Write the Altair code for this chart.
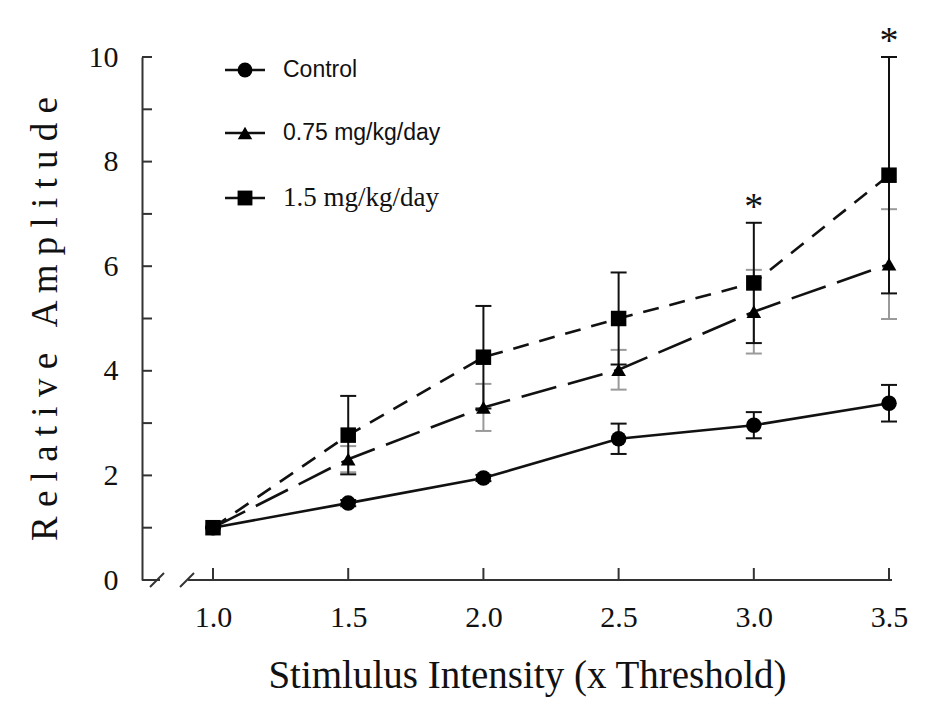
import altair as alt
import pandas as pd

# ---- data ----
x_vals = [1.0, 1.5, 2.0, 2.5, 3.0, 3.5]
control = [1.0, 1.47, 1.95, 2.70, 2.96, 3.38]
control_err = [0.0, 0.06, 0.06, 0.29, 0.25, 0.35]
low_dose = [1.0, 2.31, 3.30, 4.02, 5.13, 6.04]
low_err = [0.0, 0.25, 0.45, 0.38, 0.80, 1.05]
high_dose = [1.0, 2.77, 4.26, 5.00, 5.68, 7.74]
high_err = [0.0, 0.75, 0.98, 0.88, 1.15, 2.26]

series_names = ["Control", "0.75 mg/kg/day", "1.5 mg/kg/day"]
star_x = [3.0, 3.5]
star_label = ["*", "*"]

y_tick_values = [0, 2, 4, 6, 8, 10]
y_minor_values = list(range(0, 11))
x_tick_values = [1.0, 1.5, 2.0, 2.5, 3.0, 3.5]

W, H = 750, 523
SERIF = "Liberation Serif"
SANS = "Liberation Sans"
AX = "#333333"

def frame(vals, errs):
    return pd.DataFrame({
        "x": x_vals,
        "y": vals,
        "lo": [v - e for v, e in zip(vals, errs)],
        "hi": [v + e for v, e in zip(vals, errs)],
    })

df_c = frame(control, control_err)
df_l = frame(low_dose, low_err)
df_h = frame(high_dose, high_err)

hi_lookup = dict(zip(x_vals, [v + e for v, e in zip(high_dose, high_err)]))
df_star = pd.DataFrame({"x": star_x, "y": [hi_lookup[v] for v in star_x], "t": star_label})

xs = alt.Scale(domain=[0.7374, 3.511], nice=False, zero=False)
ys = alt.Scale(domain=[0, 10], nice=False, zero=False)

X = alt.X("x:Q", scale=xs, title="Stimlulus Intensity (x Threshold)",
          axis=alt.Axis(values=x_tick_values, format=".1f", domain=False, ticks=False,
                        grid=False, labelFont=SERIF, labelFontSize=30, labelColor="#111",
                        labelPadding=22, titleFont=SERIF, titleFontSize=39,
                        titleFontWeight="normal", titleColor="#111", titlePadding=24,
                        titleX=385))
Y = alt.Y("y:Q", scale=ys,
          title="R e l a t i v e \u00a0 A m p l i t u d e",
          axis=alt.Axis(values=y_tick_values, domain=True, domainColor=AX, domainWidth=2,
                        ticks=False, grid=False, labelFont=SERIF, labelFontSize=30,
                        labelColor="#111", labelPadding=24, titleFont=SERIF,
                        titleFontSize=37, titleFontWeight="normal", titleColor="#111",
                        titlePadding=24))

def line(df, dash):
    kw = {"strokeDash": dash} if dash else {}
    return alt.Chart(df).mark_line(color="#111", strokeWidth=2.6, **kw).encode(x=X, y=Y)

def errbars(df, color):
    v = alt.Chart(df).mark_rule(color=color, strokeWidth=2).encode(
        x="x:Q", y="lo:Q", y2="hi:Q")
    top = alt.Chart(df).mark_rule(color=color, strokeWidth=2, xOffset=-8, x2Offset=8).encode(
        x="x:Q", x2="x:Q", y="hi:Q")
    bot = alt.Chart(df).mark_rule(color=color, strokeWidth=2, xOffset=-8, x2Offset=8).encode(
        x="x:Q", x2="x:Q", y="lo:Q")
    return [v, top, bot]

def points(df, shape, size):
    return alt.Chart(df).mark_point(shape=shape, size=size, filled=True, color="#000",
                                    opacity=1).encode(x="x:Q", y="y:Q")

one = pd.DataFrame({"k": [0]})

# axis line along the bottom with break marks
axis_bits = [
    alt.Chart(one).mark_rule(color=AX, strokeWidth=2).encode(
        x=alt.value(0), x2=alt.value(18), y=alt.value(H)),
    alt.Chart(one).mark_rule(color=AX, strokeWidth=2).encode(
        x=alt.value(46), x2=alt.value(W), y=alt.value(H)),
    alt.Chart(one).mark_rule(color=AX, strokeWidth=2).encode(
        x=alt.value(8), x2=alt.value(22), y=alt.value(H + 7), y2=alt.value(H - 7)),
    alt.Chart(one).mark_rule(color=AX, strokeWidth=2).encode(
        x=alt.value(38), x2=alt.value(52), y=alt.value(H + 7), y2=alt.value(H - 7)),
]
# inward ticks
ytick_df = pd.DataFrame({"y": y_minor_values})
xtick_df = pd.DataFrame({"x": x_tick_values})
tick_layers = [
    alt.Chart(ytick_df).mark_rule(color=AX, strokeWidth=2).encode(
        y="y:Q", x=alt.value(0), x2=alt.value(10)),
    alt.Chart(xtick_df).mark_rule(color=AX, strokeWidth=2).encode(
        x="x:Q", y=alt.value(H), y2=alt.value(H - 12)),
]

# legend (drawn manually)
leg_rows = [(13, "circle", 220, SANS, 23), (76, "triangle-up", 210, SANS, 23),
            (141, "square", 220, SERIF, 27)]
legend_layers = []
for (py, shp, sz, fnt, fs), name in zip(leg_rows, series_names):
    d = pd.DataFrame({"label": [name]})
    legend_layers.append(alt.Chart(d).mark_rule(color="#111", strokeWidth=2.5).encode(
        x=alt.value(83), x2=alt.value(123), y=alt.value(py)))
    legend_layers.append(alt.Chart(d).mark_point(shape=shp, size=sz, filled=True,
                                                 color="#000", opacity=1).encode(
        x=alt.value(103), y=alt.value(py)))
    legend_layers.append(alt.Chart(d).mark_text(font=fnt, fontSize=fs, align="left",
                                                baseline="middle", color="#111").encode(
        x=alt.value(141), y=alt.value(py), text="label:N"))

stars = alt.Chart(df_star).mark_text(font=SERIF, fontSize=38, baseline="bottom",
                                     dy=4, color="#111").encode(
    x="x:Q", y="y:Q", text="t:N")

layers = (
    [line(df_c, None), line(df_l, [36, 12]), line(df_h, [16, 11])]
    + errbars(df_l, "#9a9a9a")
    + errbars(df_c, "#111")
    + errbars(df_h, "#111")
    + [points(df_c, "circle", 240), points(df_l, "triangle-up", 215),
       points(df_h, "square", 240)]
    + axis_bits + tick_layers + legend_layers + [stars]
)

chart = alt.layer(*layers).properties(
    width=W, height=H,
    autosize=alt.AutoSizeParams(type="none"),
    padding={"left": 134, "top": 49, "right": 36, "bottom": 125},
).configure_view(stroke=None)

chart.save("out.html", embed_options={"renderer": "svg", "actions": False})
